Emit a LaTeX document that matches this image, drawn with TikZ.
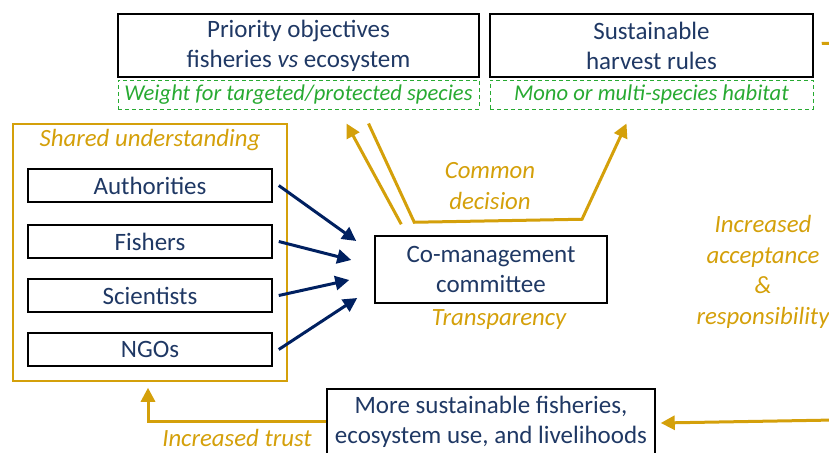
\documentclass[tikz,border=0pt]{standalone}
\usepackage{fontspec}
\setmainfont{Carlito}
\usetikzlibrary{arrows.meta}
\definecolor{navy}{RGB}{31,56,100}
\definecolor{arrowblue}{RGB}{0,32,96}
\definecolor{gold}{RGB}{212,160,10}
\definecolor{leaf}{RGB}{40,170,50}

\begin{document}
\begin{tikzpicture}[x=1pt, y=-1pt, line width=1.5pt,
    >={Triangle[length=14pt,width=14pt]},
    box/.style = {draw, text=navy, align=center, inner sep=0pt, font=\fontsize{25}{30}\selectfont},
    note/.style = {draw=leaf, dash pattern=on 4pt off 3pt, line width=1pt, text=leaf, inner sep=0pt, font=\itshape\fontsize{22.6}{26}\selectfont},
    actor/.style = {box, minimum width=244pt, minimum height=33pt},
    lbl/.style = {text=gold, align=center, font=\itshape\fontsize{24.8}{30.5}\selectfont},
    link/.style = {draw=arrowblue, line width=3pt},
    flow/.style = {draw=gold, line width=3pt}]
    \useasboundingbox (0,0) rectangle (829,452);

    % Riquadri in alto
    \node[box, minimum width=361pt, minimum height=63pt] (prio) at (298.5,45.5) {Priority objectives\\fisheries \textit{vs} ecosystem};
    \node[note, minimum width=361pt, minimum height=29pt] (prioNote) at (298.5,94.5) {Weight for targeted/protected species};
    \node[box, minimum width=323pt, minimum height=63pt] (rules) at (651.5,45.5) {Sustainable\\harvest rules};
    \node[note, minimum width=323pt, minimum height=29pt] (rulesNote) at (651.5,94.5) {Mono or multi-species habitat};

    % Attori e comitato
    \node[draw=gold, minimum width=274pt, minimum height=257pt] (shared) at (150,252.5) {};
    \node[lbl] (sharedLbl) at (150,140) {Shared understanding};
    \node[actor] (auth) at (150,185.5) {Authorities};
    \node[actor] (fish) at (150,241.5) {Fishers};
    \node[actor] (sci) at (150,295.5) {Scientists};
    \node[actor] (ngo) at (150,349.5) {NGOs};
    \node[box, minimum width=232pt, minimum height=67pt] (comm) at (491,269.5) {Co-management\\committee};
    \node[lbl] (transp) at (499,320) {Transparency};
    \node[lbl] (decision) at (490,186) {Common\\decision};
    \node[box, anchor=north, minimum width=328pt, inner ysep=7pt] (outcome) at (491,388) {More sustainable fisheries,\\ecosystem use, and livelihoods};
    \node[lbl] (trust) at (237,438) {Increased trust};
    \node[lbl] (accept) at (763,272) {Increased\\acceptance\\\&\\responsibility};
    \coordinate (rin) at (835,420);
    \coordinate (rout) at (840,43);

    \draw[link,->] ([xshift=6pt]auth.east) -- ([xshift=-18pt,yshift=28.5pt]comm.west);
    \draw[link,->] ([xshift=6pt]fish.east) -- ([xshift=-23pt,yshift=9.5pt]comm.west);
    \draw[link,->] ([xshift=6pt]sci.east) -- ([xshift=-25pt,yshift=-10.5pt]comm.west);
    \draw[link,->] ([xshift=6pt]ngo.east) -- ([xshift=-17pt,yshift=-28.5pt]comm.west);

    \draw[flow,->] ([xshift=27pt,yshift=11pt]comm.north west) -- ([xshift=48pt,yshift=-14pt]prioNote.south);
    \draw[flow,->] ([xshift=70pt,yshift=-14pt]prioNote.south) -- ([xshift=40pt,yshift=13pt]comm.north west)
        -- ([xshift=91pt,yshift=16pt]comm.north) -- ([xshift=-25pt,yshift=-14pt]rulesNote.south);
    \draw[flow,->] ([yshift=-33pt]outcome.north west) -| ([xshift=-2pt,yshift=-6pt]shared.south);
    \draw[flow,->] (rin) -- ([xshift=5pt,yshift=-35pt]outcome.north east);
    \draw[flow] ([xshift=8pt,yshift=2pt]rules.east) -- (rout);
\end{tikzpicture}
\end{document}
